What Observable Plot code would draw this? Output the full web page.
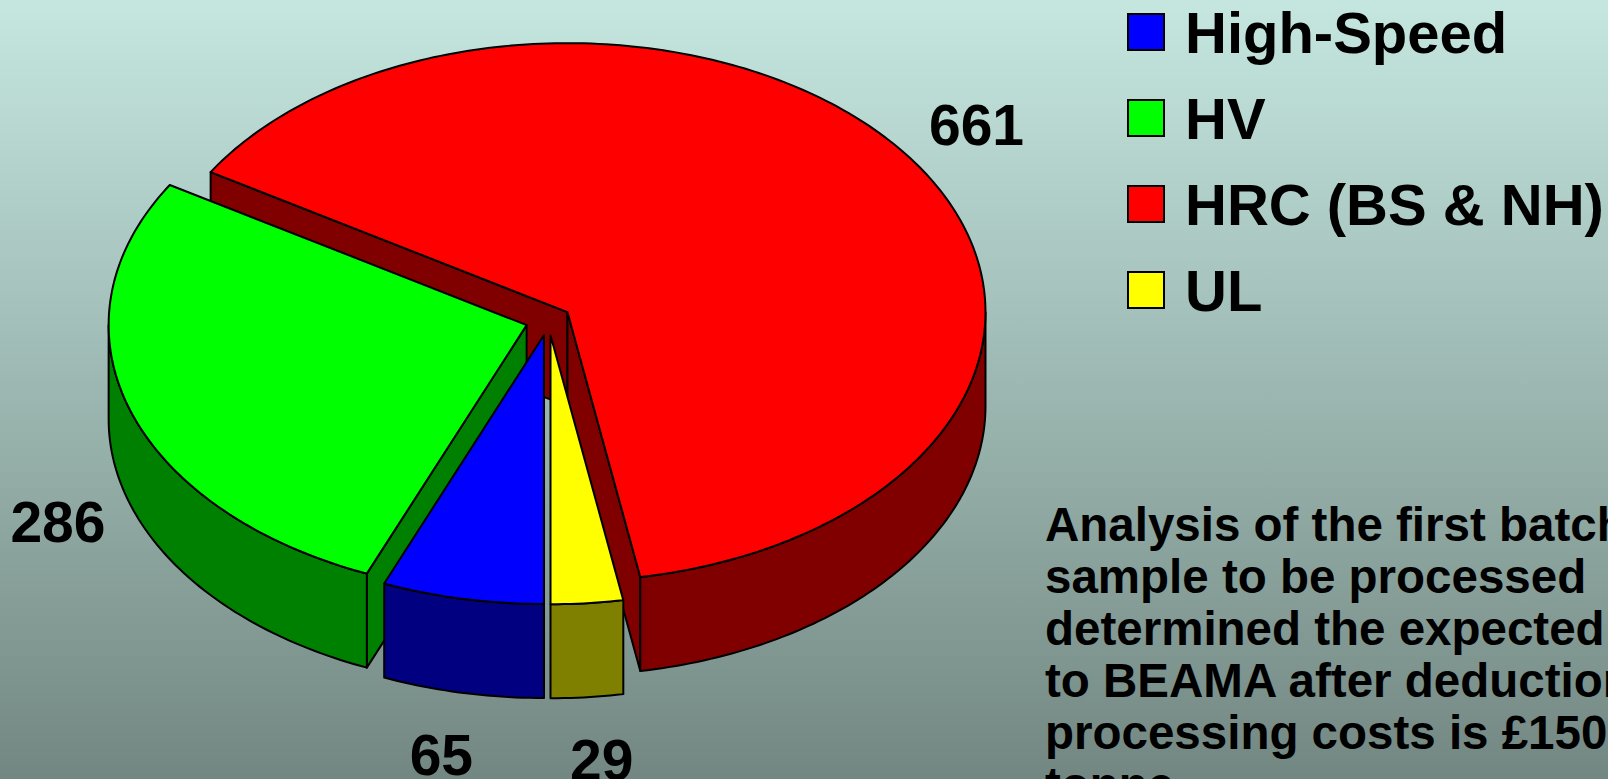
<!DOCTYPE html>
<html><head><meta charset="utf-8">
<script src="https://cdn.jsdelivr.net/npm/d3@7"></script>
<script src="https://cdn.jsdelivr.net/npm/@observablehq/plot@0.6"></script>
<style>
html,body{margin:0;padding:0;}
body{width:1608px;height:779px;overflow:hidden;position:relative;
  background:linear-gradient(to bottom,#C5E7E0 0%,#738782 100%);
  font-family:"Liberation Sans",Arial,Helvetica,sans-serif;font-weight:bold;color:#000;}
#chart{position:absolute;left:0;top:0;}
.legrow{position:absolute;left:1127px;height:58px;white-space:nowrap;}
.legsw{position:absolute;left:0;width:34px;height:34px;border:2px solid #000;}
.legtx{position:absolute;left:58px;top:0;font-size:58px;line-height:58px;}
#note{position:absolute;left:1045px;top:499px;font-size:47.5px;line-height:52px;white-space:pre;}
</style></head><body>
<div id="chart"></div>
<div id="legend"></div>
<div id="note"></div>
<script>
// ---- data ----
const categories = ["High-Speed", "HV", "HRC (BS & NH)", "UL"];
const values = [65, 286, 661, 29];
const topColors = ["#0000FF", "#00FF00", "#FF0000", "#FFFF00"];
const sideColors = ["#000080", "#008000", "#800000", "#808000"];
const noteLines = [
  "Analysis of the first batch",
  "sample to be processed",
  "determined the expected return",
  "to BEAMA after deduction of",
  "processing costs is £150 per",
  "tonne."
];

// ---- layout ----
const W = 1608, H = 779;
const cx = 548, cy = 320, R = 418, r = 269, depth = 94, explode = 0.055, firstAngle = 180;
const total = d3.sum(values);
const rad = d => d * Math.PI / 180;
const dir = t => [Math.sin(rad(t)), -Math.cos(rad(t))];

let acc = firstAngle;
const slices = values.map((v, i) => {
  const a0 = acc, a1 = acc + v / total * 360; acc = a1;
  const mid = (a0 + a1) / 2;
  const [u, w] = dir(mid);
  return {i, v, a0, a1, mid, ax: cx + explode * R * u, ay: cy + explode * r * w};
});
const rim = (s, t, dz = 0) => { const [u, w] = dir(t); return {x: s.ax + R * u, y: s.ay + r * w + dz}; };
const arc = (s, t0, t1, dz) => {
  const n = Math.max(2, Math.ceil(Math.abs(t1 - t0)));
  return d3.range(n + 1).map(k => rim(s, t0 + (t1 - t0) * k / n, dz));
};

const polys = [];
const order = slices.slice().sort((p, q) => dir(p.mid)[1] - dir(q.mid)[1]);
for (const s of order) {
  const aT = {x: s.ax, y: s.ay}, aB = {x: s.ax, y: s.ay + depth};
  if (Math.sin(rad(s.a0)) < -1e-6) polys.push({fill: sideColors[s.i], pts: [aT, rim(s, s.a0), rim(s, s.a0, depth), aB]});
  if (Math.sin(rad(s.a1)) > 1e-6) polys.push({fill: sideColors[s.i], pts: [aT, rim(s, s.a1), rim(s, s.a1, depth), aB]});
  for (let k = -1; k <= 2; k++) {
    const lo = Math.max(s.a0, 90 + 360 * k), hi = Math.min(s.a1, 270 + 360 * k);
    if (hi > lo) polys.push({fill: sideColors[s.i], pts: [...arc(s, lo, hi, 0), ...arc(s, lo, hi, depth).reverse()]});
  }
  polys.push({fill: topColors[s.i], pts: [aT, ...arc(s, s.a0, s.a1, 0)]});
}
polys.forEach(p => p.pts.push(p.pts[0]));

// data labels (outside end)
const fs = 57;
const labelData = slices.map(s => {
  const [u, w] = dir(s.mid);
  const p = rim(s, s.mid, w > 0 ? depth : 0);
  const txt = String(s.v);
  const hw = txt.length * 0.556 * fs / 2;
  return {x: p.x + u * 60 + Math.sign(u) * hw * 0.3, y: p.y + w * 63 + 2, text: txt};
});

const marks = polys.map(p => Plot.line(p.pts, {
  x: "x", y: "y", fill: p.fill, stroke: "#000", strokeWidth: 2, strokeLinejoin: "round", curve: "linear"
}));
marks.push(Plot.text(labelData, {
  x: "x", y: "y", text: "text", fontSize: fs, fontWeight: "bold",
  fontFamily: "Liberation Sans, Arial, sans-serif", fill: "#000", textAnchor: "middle", lineAnchor: "middle"
}));

const chart = Plot.plot({
  width: W, height: H, margin: 0,
  x: {domain: [0, W], range: [0, W], axis: null},
  y: {domain: [0, H], range: [0, H], axis: null},
  style: {background: "transparent", overflow: "visible"},
  marks
});
document.getElementById("chart").appendChild(chart);

// legend
const leg = document.getElementById("legend");
categories.forEach((c, i) => {
  const row = document.createElement("div");
  row.className = "legrow";
  row.style.top = (4 + i * 86) + "px";
  const sw = document.createElement("div");
  sw.className = "legsw"; sw.style.background = topColors[i]; sw.style.top = "9px";
  const tx = document.createElement("div");
  tx.className = "legtx"; tx.textContent = c;
  row.appendChild(sw); row.appendChild(tx); leg.appendChild(row);
});
document.getElementById("note").textContent = noteLines.join("\n");
</script>
</body></html>
